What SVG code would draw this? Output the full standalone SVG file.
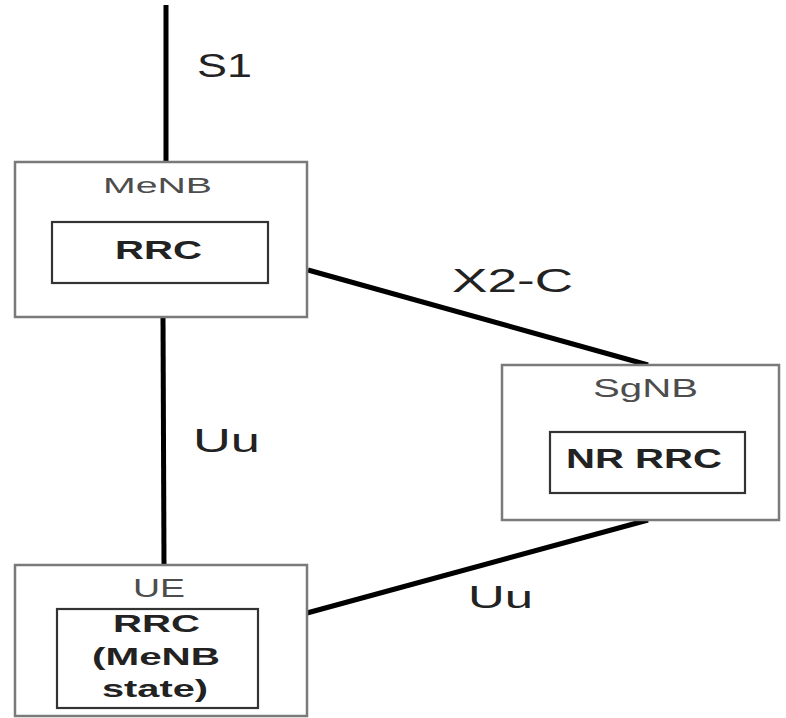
<svg xmlns="http://www.w3.org/2000/svg" width="786" height="718" viewBox="0 0 786 718">
  <style>
    .outer { fill: #ffffff; stroke: #7a7a7a; stroke-width: 2.5; }
    .inner { fill: #ffffff; stroke: #333333; stroke-width: 2.2; }
    .link { stroke: #000000; stroke-width: 5; fill: none; stroke-linecap: butt; }
    .title { font-family: "Liberation Sans", Arial, sans-serif; fill: #4d4d4d; }
    .bold { font-family: "Liberation Sans", Arial, sans-serif; font-weight: bold; fill: #222222; }
    .lbl { font-family: "Liberation Sans", Arial, sans-serif; fill: #222222; }
  </style>
  <rect width="786" height="718" fill="#ffffff"/>

  <!-- interfaces -->
  <g id="connectors">
    <line class="link" x1="166" y1="5" x2="166" y2="162"/>
    <line class="link" x1="163" y1="317" x2="164" y2="565"/>
    <line class="link" x1="308" y1="270" x2="648" y2="365"/>
    <line class="link" x1="307" y1="613" x2="648" y2="520"/>
    <text class="lbl" x="197" y="77" font-size="33" textLength="55" lengthAdjust="spacingAndGlyphs">S1</text>
    <text class="lbl" x="193" y="452" font-size="33" textLength="67" lengthAdjust="spacingAndGlyphs">Uu</text>
    <text class="lbl" x="452" y="292" font-size="33" textLength="121" lengthAdjust="spacingAndGlyphs">X2-C</text>
    <text class="lbl" x="468" y="608" font-size="32" textLength="65" lengthAdjust="spacingAndGlyphs">Uu</text>
  </g>

  <!-- master eNB -->
  <g id="menb">
    <rect class="outer" x="15" y="162" width="292" height="155"/>
    <text class="title" x="103" y="193" font-size="22" textLength="109" lengthAdjust="spacingAndGlyphs">MeNB</text>
    <rect class="inner" x="52" y="222" width="216" height="61"/>
    <text class="bold" x="115" y="259" font-size="26" textLength="87" lengthAdjust="spacingAndGlyphs">RRC</text>
  </g>

  <!-- secondary gNB -->
  <g id="sgnb">
    <rect class="outer" x="502" y="365" width="277" height="155"/>
    <text class="title" x="593" y="397" font-size="26" textLength="105" lengthAdjust="spacingAndGlyphs">SgNB</text>
    <rect class="inner" x="550" y="432" width="195" height="61"/>
    <text class="bold" x="566" y="468" font-size="27" textLength="156" lengthAdjust="spacingAndGlyphs">NR RRC</text>
  </g>

  <!-- user equipment -->
  <g id="ue">
    <rect class="outer" x="15" y="565" width="292" height="151"/>
    <text class="title" x="133" y="597" font-size="25" textLength="52" lengthAdjust="spacingAndGlyphs">UE</text>
    <rect class="inner" x="57" y="609" width="201" height="99"/>
    <text class="bold" x="113" y="632" font-size="24" textLength="87" lengthAdjust="spacingAndGlyphs">RRC</text>
    <text class="bold" x="92" y="665" font-size="24" textLength="128" lengthAdjust="spacingAndGlyphs">(MeNB</text>
    <text class="bold" x="102" y="697" font-size="24" textLength="106" lengthAdjust="spacingAndGlyphs">state)</text>
  </g>
</svg>
